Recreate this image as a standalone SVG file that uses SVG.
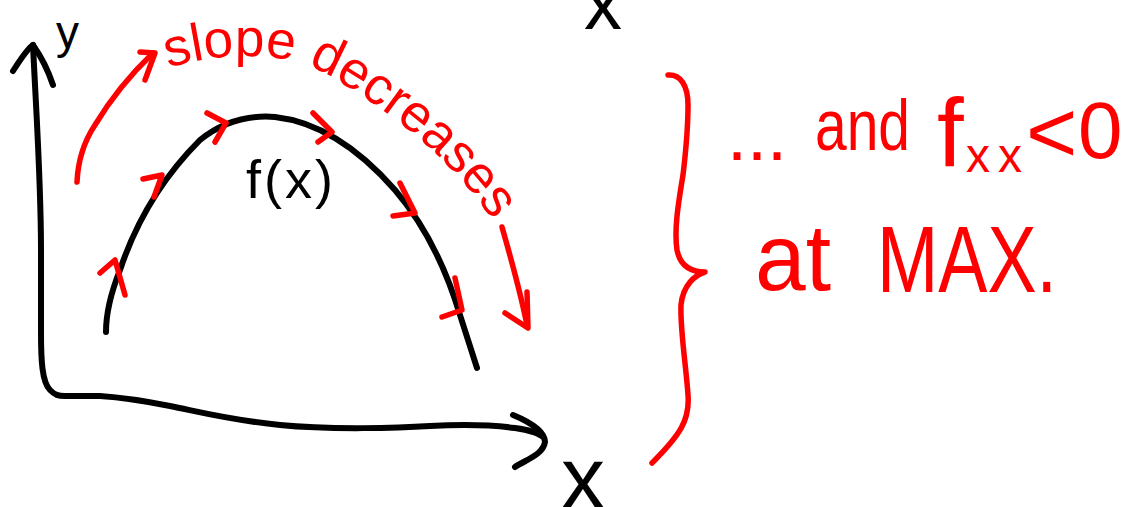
<svg xmlns="http://www.w3.org/2000/svg" width="1124" height="507" viewBox="0 0 1124 507">
  <style>
    .ink { fill: none; stroke: #000; stroke-width: 6; stroke-linecap: round; stroke-linejoin: round; }
    .red { fill: none; stroke: #ff0000; stroke-width: 5.5; stroke-linecap: round; stroke-linejoin: round; }
    .tb { font-family: "Liberation Sans", Arial, sans-serif; fill: #000; }
    .tr { font-family: "Liberation Sans", Arial, sans-serif; fill: #ff0000; }
  </style>
  <defs>
    <path id="slopePath" d="M168,68 C230,50 290,52 330,76 C370,100 450,150 500,232"/>
  </defs>
  <rect width="1124" height="507" fill="#ffffff"/>

  <g id="connectors">
    <g id="axes">
      <path class="ink" d="M33,45 C36,110 41,180 41,250 L41,333 C41,360 42,382 50,390 C55,395 58,396 65,396 L100,396 C130,398 150,402 170,406 C200,412 230,420 280,425 C330,430 400,428 430,426 C470,424 500,426 515,428 C530,430 540,434 543,437"/>
      <path class="ink" d="M13,71 C20,60 28,48 33,45 C40,55 48,70 53,85"/>
      <path class="ink" d="M513,415 C530,422 545,432 545,442 C543,455 525,460 515,467"/>
    </g>
    <g id="slope-arrows">
      <path class="red" d="M77,182 C78,160 85,140 95,125 C110,100 130,75 153,53"/>
      <path class="red" d="M140,52 L155,53 L145,80"/>
      <path class="red" d="M502,227 C510,255 520,290 527,325"/>
      <path class="red" d="M505,313 L528,328 L527,292"/>
    </g>
  </g>

  <g id="curve">
    <path class="ink" d="M106,332 C106,310 112,290 120,270 C135,225 160,180 200,140 C225,120 250,115 275,117 C320,122 360,150 395,190 C425,225 445,265 460,315 C468,340 473,355 477,368"/>
    <g id="tangent-ticks">
      <path class="red" d="M100,273 L115,260 L125,295"/>
      <path class="red" d="M143,179 L162,175 L154,197"/>
      <path class="red" d="M207,113 L226,123 L215,142"/>
      <path class="red" d="M313,113 L332,132 L318,142"/>
      <path class="red" d="M400,183 L415,213 L393,216"/>
      <path class="red" d="M455,278 L462,310 L442,317"/>
    </g>
    <text class="tb" x="246" y="198" font-size="54" letter-spacing="3">f(x)</text>
  </g>

  <g id="axis-labels">
    <text class="tb" x="56" y="48" font-size="46">y</text>
    <text class="tb" x="561" y="508" font-size="88">x</text>
    <text class="tb" x="584" y="29" font-size="76">x</text>
  </g>

  <g id="slope-label">
    <text class="tr" font-size="53"><textPath href="#slopePath">slope decreases</textPath></text>
  </g>

  <g id="brace">
    <path class="red" d="M668,75 C680,74 688,85 688,105 C688,130 686,150 683,175 C678,205 674,230 677,250 C680,265 690,272 705,272 C695,275 683,285 681,305 C680,330 686,365 688,395 C690,420 680,435 652,463"/>
  </g>

  <g id="note">
    <text class="tr" x="727" y="160" font-size="72">...</text>
    <text class="tr" x="815" y="150" font-size="72" textLength="95" lengthAdjust="spacingAndGlyphs">and</text>
    <text class="tr" x="937" y="166" font-size="96">f</text>
    <text class="tr" x="966" y="172" font-size="48" letter-spacing="8">xx</text>
    <text class="tr" x="1026" y="162" font-size="88">&lt;</text>
    <text class="tr" x="1078" y="158" font-size="80">0</text>
    <text class="tr" x="755" y="290" font-size="94" textLength="76" lengthAdjust="spacingAndGlyphs">at</text>
    <text class="tr" x="877" y="292" font-size="94" textLength="180" lengthAdjust="spacingAndGlyphs">MAX.</text>
  </g>
</svg>
